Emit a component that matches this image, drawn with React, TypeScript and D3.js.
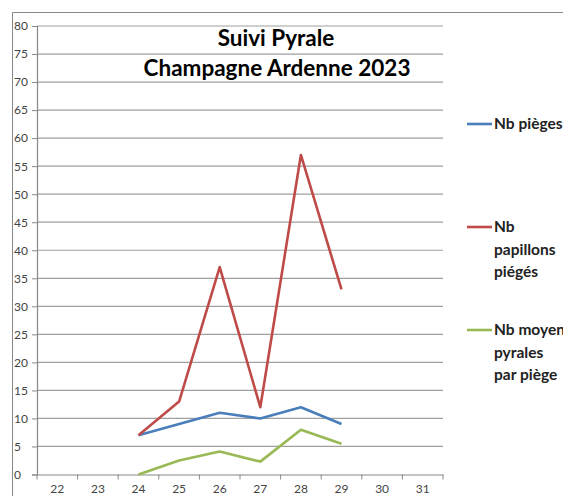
import { useEffect, useRef } from "react";
import * as d3 from "d3";

const weeks = ["22", "23", "24", "25", "26", "27", "28", "29", "30", "31"];
const yTicks = [0, 5, 10, 15, 20, 25, 30, 35, 40, 45, 50, 55, 60, 65, 70, 75, 80];

const dataWeeks = ["24", "25", "26", "27", "28", "29"];
const nbPieges = [7, 9, 11, 10, 12, 9];
const nbPapillons = [7, 13, 37, 12, 57, 33];
const nbMoyen = [0, 2.5, 4.1, 2.3, 8, 5.5];

const series = [
  { name: ["Nb pièges"], values: nbPieges, color: "#4a7ebb", ly: 124 },
  { name: ["Nb", "papillons", "piégés"], values: nbPapillons, color: "#be4b48", ly: 227 },
  { name: ["Nb moyen", "pyrales", "par piège"], values: nbMoyen, color: "#98b954", ly: 330 },
];

const App = () => {
  const ref = useRef<SVGSVGElement>(null);

  useEffect(() => {
    const svg = d3.select(ref.current);
    svg.selectAll("*").remove();

    const left = 37, right = 443, top = 26, bottom = 474.5;
    const font = "Lato, 'Open Sans', sans-serif";

    // outer chart border
    svg.append("path")
      .attr("d", "M12.5,600 V12.5 H600")
      .attr("fill", "none")
      .attr("stroke", "#888")
      .attr("stroke-width", 1);

    const x = d3.scaleBand().domain(weeks).range([left, right]);
    const y = d3.scaleLinear().domain([0, 80]).range([bottom, top]);

    // gridlines
    svg.append("g")
      .selectAll("line")
      .data(yTicks.filter((t) => t > 0))
      .join("line")
      .attr("x1", left).attr("x2", right)
      .attr("y1", (d) => y(d)).attr("y2", (d) => y(d))
      .attr("stroke", "#a0a0a0")
      .attr("stroke-width", 1.2);

    // y axis
    const yAxis = svg.append("g")
      .attr("transform", `translate(${left},0)`)
      .call(d3.axisLeft(y).tickValues(yTicks).tickSize(5).tickFormat(d3.format("d")));
    yAxis.select(".domain").attr("stroke", "#888").attr("stroke-width", 1.2);
    yAxis.selectAll(".tick line").attr("stroke", "#888");
    yAxis.selectAll("text")
      .attr("x", -23)
      .attr("text-anchor", "start")
      .attr("fill", "#444")
      .style("font-family", font)
      .style("font-size", "12px");

    // x axis
    const xAxis = svg.append("g")
      .attr("transform", `translate(0,${bottom})`)
      .call(d3.axisBottom(x).tickSize(0).tickPadding(10));
    xAxis.select(".domain").attr("stroke", "#888").attr("stroke-width", 1.2);
    xAxis.selectAll("text")
      .attr("fill", "#444")
      .style("font-family", font)
      .style("font-size", "12px");
    xAxis.append("g")
      .selectAll("line")
      .data(d3.range(weeks.length + 1))
      .join("line")
      .attr("x1", (i) => left + i * x.step())
      .attr("x2", (i) => left + i * x.step())
      .attr("y1", 0).attr("y2", 5)
      .attr("stroke", "#888");

    // lines
    const line = d3.line<number>()
      .x((_, i) => (x(dataWeeks[i]) as number) + x.bandwidth() / 2)
      .y((d) => y(d));

    series.forEach((s) => {
      svg.append("path")
        .datum(s.values)
        .attr("d", line)
        .attr("fill", "none")
        .attr("stroke", s.color)
        .attr("stroke-width", 2.6)
        .attr("stroke-linejoin", "round");
    });

    // title
    const title = svg.append("text")
      .attr("text-anchor", "middle")
      .attr("font-family", font)
      .attr("font-weight", "bold")
      .attr("font-size", 22.5)
      .attr("fill", "#000");
    title.append("tspan").attr("x", 276).attr("y", 46).text("Suivi Pyrale");
    title.append("tspan").attr("x", 277).attr("y", 76).text("Champagne Ardenne 2023");

    // legend
    series.forEach((s) => {
      svg.append("line")
        .attr("x1", 467).attr("x2", 492)
        .attr("y1", s.ly).attr("y2", s.ly)
        .attr("stroke", s.color)
        .attr("stroke-width", 2.6);
      const t = svg.append("text")
        .attr("font-family", font)
        .attr("font-weight", "bold")
        .attr("font-size", 15.5)
        .attr("fill", "#222");
      s.name.forEach((n, i) => {
        t.append("tspan").attr("x", 494).attr("y", s.ly + 5 + i * 22.5).text(n);
      });
    });
  }, []);

  return (
    <svg ref={ref} width={563} height={496}
      style={{ position: "absolute", left: 0, top: 0, background: "#fff" }} />
  );
};

export default App;
